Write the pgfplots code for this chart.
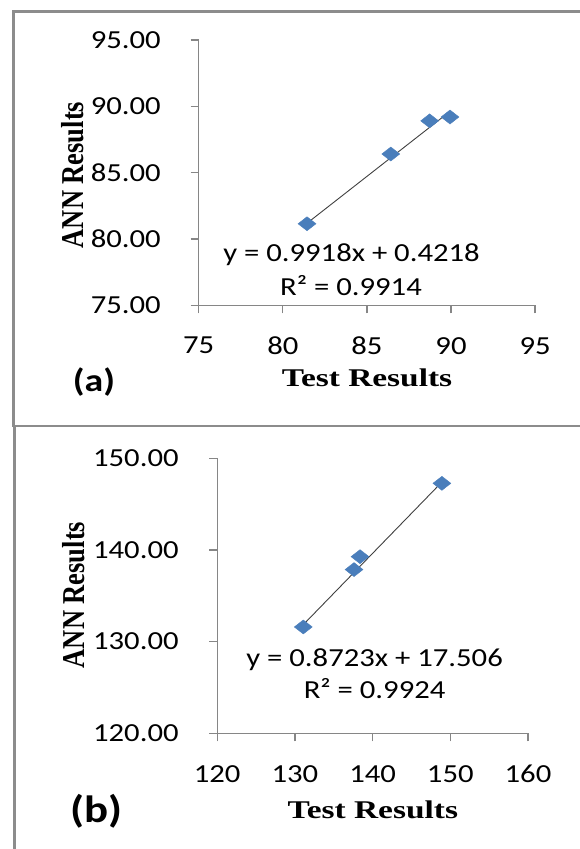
\documentclass[border=0pt]{standalone}
\usepackage{fontspec}
\setmainfont{Carlito}[FakeStretch=1.18]
\newfontfamily\titlef{Liberation Serif}[FakeStretch=1.31]
\newfontfamily\titlev{Liberation Serif}
\usepackage{pgfplots}
\pgfplotsset{compat=1.18}
\definecolor{mk}{HTML}{4A7EBB}
\definecolor{ax}{HTML}{868686}
\definecolor{fr}{HTML}{8C8C8C}
\newcommand\tfs{\fontsize{26}{30}\selectfont}
\pgfplotsset{myax/.style={
  axis lines=left,
  axis line style={-, ax, line width=1.3pt},
  tick align=outside, major tick length=8pt,
  tick style={ax, line width=1.3pt},
  xticklabel style={font=\tfs, anchor=north, inner sep=0pt, yshift=-23.7pt,
     /pgf/number format/fixed, /pgf/number format/precision=0},
  yticklabel style={font=\tfs, anchor=east, inner sep=0pt,
     /pgf/number format/fixed, /pgf/number format/fixed zerofill, /pgf/number format/precision=2},
  /pgf/number format/assume math mode=true,
  clip=false, anchor=south west,
}}
\begin{document}
\begin{tikzpicture}[x=1pt,y=1pt]
\useasboundingbox (0pt,0pt) rectangle (580pt,-849pt);
\draw[fr, line width=2.8pt] (620pt,-11.3pt) -- (13.5pt,-11.3pt) -- (13.5pt,-426pt) -- (620pt,-426pt);
\draw[fr, line width=2.8pt] (14.3pt,-426pt) -- (14.3pt,-880pt);

% panel (a)
\begin{axis}[myax, at={(198.7pt,-305.3pt)}, x=16.82pt, y=13.26pt,
  xmin=75, xmax=95, ymin=75, ymax=95,
  xtick={75,80,85,90,95}, ytick={75,80,85,90,95},
  yticklabel style={xshift=-29.7pt}]
\addplot[only marks, mark=diamond*, mark size=7pt, mark options={xscale=1.71, fill=mk, draw=mk}]
  coordinates {(81.44,81.15) (86.42,86.41) (88.73,88.91) (89.94,89.20)};
\addplot[no marks, draw=black!75, line width=0.9pt]
  coordinates {(81.44,81.19) (89.94,89.62)};
\end{axis}
\node[anchor=base, inner sep=0pt, font=\tfs] at (351.5pt,-261.7pt) {y = 0.9918x + 0.4218};
\node[anchor=base, inner sep=0pt, font=\tfs] at (351pt,-295pt) {R² = 0.9914};
\begin{scope}[shift={(83pt,-175pt)}, xscale=1.2]
\node[anchor=base, inner sep=0pt, rotate=90, transform shape, font=\titlev\bfseries\fontsize{26.5}{30}\selectfont] at (0,0) {ANN Results};
\end{scope}
\node[anchor=base, inner sep=0pt, font=\titlef\bfseries\fontsize{25.5}{30}\selectfont] at (367pt,-386.7pt) {Test Results};
\node[anchor=center, inner sep=0pt, font=\bfseries\fontsize{32}{36}\selectfont] at (94pt,-381.7pt) {(a)};

% panel (b)
\begin{axis}[myax, at={(217.2pt,-733.3pt)}, x=7.77pt, y=9.167pt,
  xmin=120, xmax=160, ymin=120, ymax=150,
  xtick={120,130,140,150,160}, ytick={120,130,140,150},
  yticklabel style={xshift=-30.4pt}]
\addplot[only marks, mark=diamond*, mark size=7pt, mark options={xscale=1.71, fill=mk, draw=mk}]
  coordinates {(131.08,131.60) (137.61,137.86) (138.38,139.27) (148.92,147.27)};
\addplot[no marks, draw=black!75, line width=0.9pt]
  coordinates {(131.08,131.85) (148.92,147.41)};
\end{axis}
\node[anchor=base, inner sep=0pt, font=\tfs] at (374.6pt,-666.7pt) {y = 0.8723x + 17.506};
\node[anchor=base, inner sep=0pt, font=\tfs] at (374.6pt,-698.3pt) {R² = 0.9924};
\begin{scope}[shift={(84pt,-595pt)}, xscale=1.2]
\node[anchor=base, inner sep=0pt, rotate=90, transform shape, font=\titlev\bfseries\fontsize{26.5}{30}\selectfont] at (0,0) {ANN Results};
\end{scope}
\node[anchor=base, inner sep=0pt, font=\titlef\bfseries\fontsize{25.5}{30}\selectfont] at (372.8pt,-818pt) {Test Results};
\node[anchor=center, inner sep=0pt, font=\bfseries\fontsize{38}{42}\selectfont] at (96.5pt,-811.7pt) {(b)};
\end{tikzpicture}
\end{document}
